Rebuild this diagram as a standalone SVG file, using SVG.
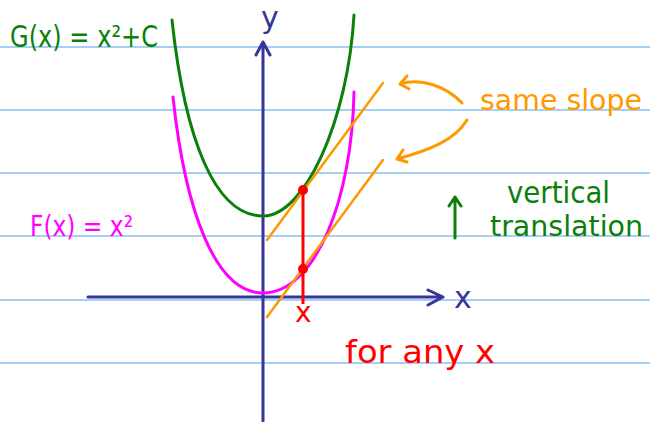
<svg xmlns="http://www.w3.org/2000/svg" width="650" height="422" viewBox="0 0 650 422">
<defs>
<style>
.rule{stroke:#a6cff5;stroke-width:2}
.axis{stroke:#35359a;stroke-width:3;fill:none;stroke-linecap:round;stroke-linejoin:round}
.curve{fill:none;stroke-width:3;stroke-linecap:round}
.tan{stroke:#ff9900;stroke-width:2.5;stroke-linecap:round}
.oarrow{fill:none;stroke:#ff9900;stroke-width:3;stroke-linecap:round;stroke-linejoin:round}
.garrow{fill:none;stroke:#0a800a;stroke-width:3;stroke-linecap:round;stroke-linejoin:round}
text{font-family:"DejaVu Sans","Liberation Sans",sans-serif}
.green{fill:#0a800a}
.mag{fill:#ff00ff}
.orange{fill:#ff9900}
.red{fill:#ff0000}
.blue{fill:#35359a}
</style>
</defs>
<g id="rules">
<line class="rule" x1="0" y1="47" x2="650" y2="47"/>
<line class="rule" x1="0" y1="110" x2="650" y2="110"/>
<line class="rule" x1="0" y1="173" x2="650" y2="173"/>
<line class="rule" x1="0" y1="236" x2="650" y2="236"/>
<line class="rule" x1="0" y1="300" x2="650" y2="300"/>
<line class="rule" x1="0" y1="363" x2="650" y2="363"/>
</g>
<g id="axes">
<path class="axis" d="M263,421 L263,42 M256,55 L263,42 L270,55"/>
<path class="axis" d="M88,297 L443,297 M428,290 L443,297 L428,305"/>
<text class="blue" x="261" y="28" font-size="30">y</text>
<text class="blue" x="454" y="308" font-size="30">x</text>
</g>
<g id="G-curve">
<path class="curve" stroke="#0a800a" d="M172,20 C185,140 215,216 263,216 C305,216 348,120 354,15"/>
<text class="green" x="10" y="47" font-size="30" textLength="148" lengthAdjust="spacingAndGlyphs">G(x) = x²+C</text>
</g>
<g id="F-curve">
<path class="curve" stroke="#ff00ff" d="M173,97 C185,210 215,293 263,293 C315,293 352,200 354,92"/>
<text class="mag" x="30" y="236" font-size="28" textLength="103" lengthAdjust="spacingAndGlyphs">F(x) = x²</text>
</g>
<g id="tangents">
<line class="tan" x1="267" y1="240" x2="383" y2="83"/>
<line class="tan" x1="267" y1="317" x2="383" y2="160"/>
</g>
<g id="same-slope">
<path class="oarrow" d="M462,103 C445,85 420,78 400,84 M407,76 L400,84 L409,89"/>
<path class="oarrow" d="M467,120 C455,140 430,150 397,159 M403,150 L397,159 L407,162"/>
<text class="orange" x="480" y="110" font-size="28" textLength="162" lengthAdjust="spacingAndGlyphs">same slope</text>
</g>
<g id="vertical-translation">
<path class="garrow" d="M455,238 L455,197 M449,206 L455,197 L461,206"/>
<text class="green" x="507" y="203" font-size="30" textLength="103" lengthAdjust="spacingAndGlyphs">vertical</text>
<text class="green" x="490" y="236" font-size="29" textLength="153" lengthAdjust="spacingAndGlyphs">translation</text>
</g>
<g id="red-x">
<line x1="303" y1="190" x2="303" y2="304" stroke="#ff0000" stroke-width="3"/>
<circle cx="303" cy="190" r="5" fill="#ff0000"/>
<circle cx="303" cy="269" r="5" fill="#ff0000"/>
<text class="red" x="295" y="322" font-size="28">x</text>
<text class="red" x="345" y="363" font-size="32" textLength="150" lengthAdjust="spacingAndGlyphs">for any x</text>
</g>
</svg>
